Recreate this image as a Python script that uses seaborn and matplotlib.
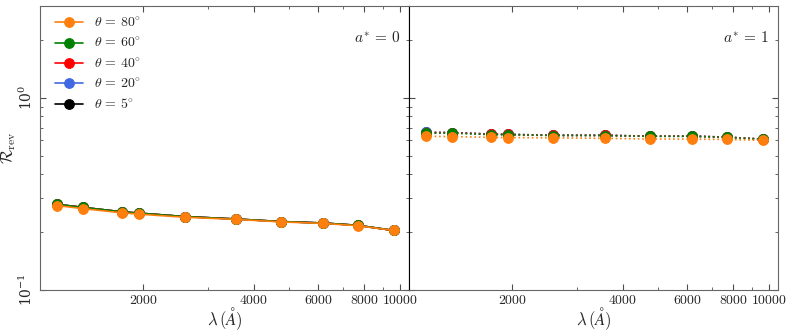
import numpy as np
import pandas as pd
import matplotlib
matplotlib.use('Agg')
import matplotlib.pyplot as plt
import matplotlib.ticker as mticker
import seaborn as sns

# wavelengths (Angstrom)
wavelength = [1163, 1369, 1752, 1950, 2590, 3574, 4747, 6185, 7666, 9620]

thetas = [5, 20, 40, 60, 80]
colors = ['black', 'royalblue', 'red', 'green', '#ff7f0e']

# a* = 0
rrev_a0_t5 = [0.279, 0.269, 0.255, 0.251, 0.241, 0.234, 0.227, 0.223, 0.217, 0.204]
rrev_a0_t20 = [0.279, 0.269, 0.255, 0.251, 0.241, 0.234, 0.227, 0.223, 0.217, 0.204]
rrev_a0_t40 = [0.279, 0.269, 0.255, 0.251, 0.241, 0.234, 0.227, 0.223, 0.217, 0.204]
rrev_a0_t60 = [0.279, 0.269, 0.255, 0.251, 0.241, 0.234, 0.227, 0.223, 0.217, 0.204]
rrev_a0_t80 = [0.275, 0.265, 0.252, 0.248, 0.239, 0.233, 0.226, 0.222, 0.216, 0.204]

# a* = 1
rrev_a1_t5 = [0.660, 0.659, 0.647, 0.645, 0.638, 0.638, 0.631, 0.631, 0.624, 0.609]
rrev_a1_t20 = [0.660, 0.659, 0.647, 0.645, 0.638, 0.638, 0.631, 0.631, 0.624, 0.609]
rrev_a1_t40 = [0.659, 0.658, 0.646, 0.644, 0.637, 0.637, 0.631, 0.631, 0.624, 0.609]
rrev_a1_t60 = [0.654, 0.654, 0.643, 0.642, 0.636, 0.636, 0.630, 0.630, 0.623, 0.608]
rrev_a1_t80 = [0.630, 0.628, 0.622, 0.621, 0.618, 0.615, 0.610, 0.609, 0.607, 0.600]

panels = [
    (r'$a^{*} \,=\, 0$', [rrev_a0_t5, rrev_a0_t20, rrev_a0_t40, rrev_a0_t60, rrev_a0_t80], '-'),
    (r'$a^{*} \,=\, 1$', [rrev_a1_t5, rrev_a1_t20, rrev_a1_t40, rrev_a1_t60, rrev_a1_t80], ':'),
]

xticks = [2000, 4000, 6000, 8000, 10000]

sns.set_style('ticks')
plt.rcParams['mathtext.fontset'] = 'cm'
plt.rcParams['font.family'] = ['DejaVu Serif']

fig, axes = plt.subplots(1, 2, figsize=(7.89, 3.34), dpi=100, sharey=True)
fig.subplots_adjust(left=0.0507, right=0.986, bottom=0.1317, top=0.982, wspace=0)

for ax, (label, series, ls) in zip(axes, panels):
    for theta, col, vals in zip(thetas, colors, series):
        df = pd.DataFrame({'wl': wavelength, 'r': vals})
        sns.lineplot(data=df, x='wl', y='r', ax=ax, color=col, linestyle=ls,
                     marker='o', markersize=7, markeredgecolor=col, linewidth=1.2,
                     label=r'$\theta \,=\, %d^{\circ}$' % theta)
    ax.set_xscale('log')
    ax.set_yscale('log')
    ax.set_xlim(0.9 * min(wavelength), 1.1 * max(wavelength))
    ax.set_ylim(0.1, 3.0)
    ax.set_xticks(xticks)
    ax.xaxis.set_major_formatter(mticker.FuncFormatter(lambda v, p: r'$%d$' % v))
    ax.xaxis.set_minor_locator(mticker.FixedLocator([3000, 5000, 7000, 9000]))
    ax.xaxis.set_minor_formatter(mticker.NullFormatter())
    ax.tick_params(which='both', direction='in', top=True, right=True, labelsize=10)
    ax.tick_params(axis='x', which='major', pad=2)
    ax.tick_params(axis='y', which='major', labelrotation=90)
    ax.tick_params(which='major', length=4, color='0.3')
    ax.tick_params(which='minor', length=2.5, color='0.3')
    for s in ax.spines.values():
        s.set_color('0.4')
    ax.set_xlabel(r'$\lambda\,(\AA)$', fontsize=12, labelpad=-1)
    ax.set_ylabel('')
    ax.text(0.975, 0.89, label, transform=ax.transAxes, ha='right', va='center', fontsize=11)
    ax.get_legend().remove()

axes[0].spines['right'].set_color('black')
axes[1].spines['left'].set_color('black')
axes[1].tick_params(axis='y', which='both', labelleft=False)
for lab in axes[0].get_yticklabels():
    lab.set_va('center')
axes[0].set_ylabel(r'$\mathcal{R}_{\rm rev}$', fontsize=12, labelpad=0)

h, l = axes[0].get_legend_handles_labels()
axes[0].legend(h[::-1], l[::-1], loc='upper left', frameon=False, fontsize=10,
               handlelength=2.0, labelspacing=0.45, bbox_to_anchor=(0.015, 1.0),
               borderaxespad=0.3)

fig.savefig('out.png', dpi=100)
